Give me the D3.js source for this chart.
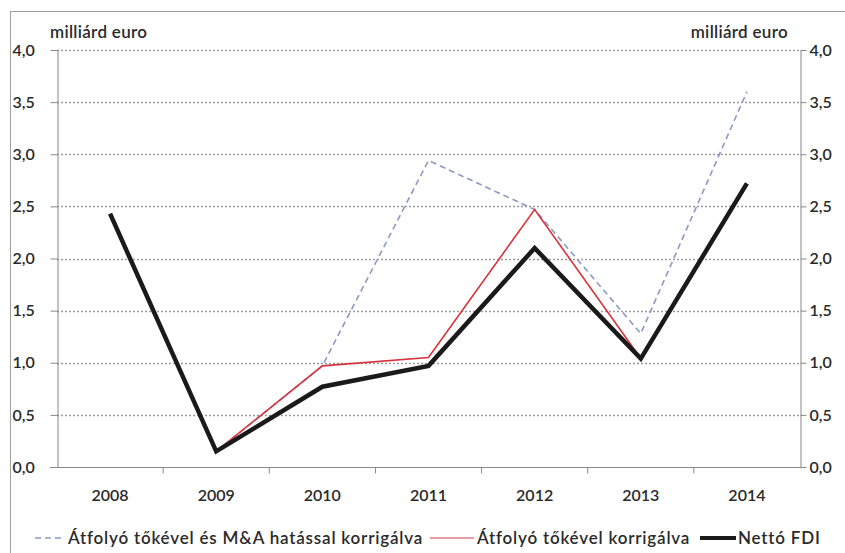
<!DOCTYPE html>
<html>
<head>
<meta charset="utf-8">
<script src="https://cdn.jsdelivr.net/npm/d3@7"></script>
<style>
  body { margin: 0; background: #fff; }
  svg text { font-family: Lato, "Open Sans", sans-serif; fill: #2a2a2a; font-weight: 600; }
</style>
</head>
<body>
<svg id="chart" width="845" height="553"></svg>
<script>
const years = ['2008', '2009', '2010', '2011', '2012', '2013', '2014'];
const nettoFdi = [2.43, 0.15, 0.77, 0.97, 2.10, 1.04, 2.72];
const atfolyo = [null, 0.15, 0.97, 1.05, 2.47, 1.04, null];
const atfolyoMA = [null, 0.15, 0.97, 2.94, 2.47, 1.28, 3.60];
const yTicks = [0, 0.5, 1, 1.5, 2, 2.5, 3, 3.5, 4];
const legendLabels = ['Átfolyó tőkével és M&A hatással korrigálva', 'Átfolyó tőkével korrigálva', 'Nettó FDI'];

const svg = d3.select('#chart');
const margin = { left: 57, right: 800, top: 50, bottom: 467 };
const fmt = v => d3.format('.1f')(v).replace('.', ',');

// outer frame
svg.append('rect')
  .attr('x', 10.5).attr('y', 11.5)
  .attr('width', 850).attr('height', 560)
  .attr('fill', 'none').attr('stroke', '#a0a0a0');

const x = d3.scaleBand().domain(years).range([margin.left, margin.right]);
const y = d3.scaleLinear().domain([0, 4]).range([margin.bottom, margin.top]);

// grid
svg.append('g')
  .selectAll('line')
  .data(yTicks.filter(v => v > 0))
  .join('line')
  .attr('x1', margin.left).attr('x2', margin.right)
  .attr('y1', d => Math.round(y(d)) + 0.5).attr('y2', d => Math.round(y(d)) + 0.5)
  .attr('stroke', '#9a9a9a').attr('stroke-width', 1.3)
  .attr('stroke-dasharray', '2,2');

// left axis
const leftAxis = svg.append('g')
  .attr('transform', `translate(${margin.left + 0.5},0)`)
  .call(d3.axisLeft(y).tickValues(yTicks).tickFormat(fmt).tickSize(7).tickSizeOuter(0));
leftAxis.selectAll('text').attr('x', -45).attr('text-anchor', 'start').style('font-size', '16px');

// right axis
const rightAxis = svg.append('g')
  .attr('transform', `translate(${margin.right + 0.5},0)`)
  .call(d3.axisRight(y).tickValues(yTicks).tickFormat(fmt).tickSize(6).tickSizeOuter(0));
rightAxis.selectAll('text').attr('x', 9).style('font-size', '16px');

// bottom axis
const bottom = svg.append('g').attr('transform', `translate(0,${margin.bottom + 0.5})`);
bottom.append('line')
  .attr('x1', margin.left - 7).attr('x2', margin.right + 6)
  .attr('stroke', '#888');
bottom.selectAll('line.tick')
  .data(years.slice(1))
  .join('line')
  .attr('class', 'tick')
  .attr('x1', d => x(d)).attr('x2', d => x(d))
  .attr('y1', 0).attr('y2', 6)
  .attr('stroke', '#888');
bottom.selectAll('text')
  .data(years)
  .join('text')
  .attr('x', d => x(d) + x.bandwidth() / 2)
  .attr('y', 33)
  .attr('text-anchor', 'middle')
  .style('font-size', '16px')
  .text(d => d);

svg.selectAll('.domain, .tick line').attr('stroke', '#888');

// unit labels
svg.append('text').attr('x', 50).attr('y', 38).style('font-size', '17px').style('letter-spacing', '0.3px').text('milliárd euro');
svg.append('text').attr('x', 788).attr('y', 38).attr('text-anchor', 'end').style('font-size', '17px').style('letter-spacing', '0.3px').text('milliárd euro');

const line = d3.line()
  .defined(d => d.v != null)
  .x(d => x(d.year) + x.bandwidth() / 2)
  .y(d => y(d.v));
const pts = arr => years.map((year, i) => ({ year, v: arr[i] }));

const series = [
  { data: atfolyoMA, color: '#8a9ac8', width: 1.6, dash: '6,4' },
  { data: atfolyo, color: '#d8323c', width: 1.6, dash: null },
  { data: nettoFdi, color: '#1a1a1a', width: 4.5, dash: null }
];

series.forEach(s => {
  svg.append('path')
    .datum(pts(s.data))
    .attr('d', line)
    .attr('fill', 'none')
    .attr('stroke', s.color)
    .attr('stroke-width', s.width)
    .attr('stroke-dasharray', s.dash)
    .attr('stroke-linejoin', 'miter');
});

// legend
const legendPos = [
  { x1: 35, x2: 63, tx: 68 },
  { x1: 430, x2: 474, tx: 477 },
  { x1: 700, x2: 736, tx: 738 }
];
legendLabels.forEach((label, i) => {
  const s = series[i], p = legendPos[i];
  svg.append('line')
    .attr('x1', p.x1).attr('x2', p.x2)
    .attr('y1', 538).attr('y2', 538)
    .attr('stroke', i === 1 ? '#e07c84' : s.color)
    .attr('stroke-width', i === 2 ? 4 : 1.6)
    .attr('stroke-dasharray', s.dash);
  svg.append('text')
    .attr('x', p.tx).attr('y', 544)
    .style('font-size', '17px')
    .style('letter-spacing', '0.8px')
    .text(label);
});
</script>
</body>
</html>
